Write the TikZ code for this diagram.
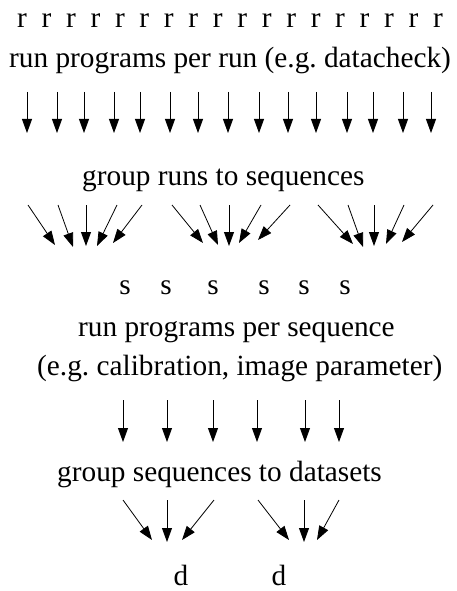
\documentclass[tikz,border=0pt]{standalone}
\usepackage{fontspec}
\setmainfont{Liberation Serif}
\usetikzlibrary{arrows.meta}
\frenchspacing
\begin{document}
\begin{tikzpicture}[x=1pt,y=-1pt,
  lbl/.style={inner sep=0pt,anchor=base west,font=\fontsize{29.3}{35}\selectfont\frenchspacing},
  letter/.style={inner sep=0pt,anchor=base,font=\fontsize{29.3}{35}\selectfont},
  arr/.style={line width=0.8pt,-{Triangle[length=14pt,width=10pt]}}]
\useasboundingbox (0,0) rectangle (456,591);
% row of r
\foreach \i in {0,...,17}{
  \node[letter] (r\i) at ({22+\i*24.47},28) {r};
}
\node[lbl] (t1) at (9,68) {run programs per run (e.g.\ datacheck)};
% straight arrows row 1
\foreach \x [count=\k] in {27,57,84,114,140,170,198,228,259,288,316,347,373,403,431}{
  \coordinate (a\k) at (\x,92);
  \coordinate (b\k) at (\x,133);
  \draw[arr] (a\k) -- (b\k);
}
\node[lbl] (t2) at (82,185) {group runs to sequences};
% converging groups
\foreach \sx/\ex/\ey [count=\k] in {28/55/245,58/73/247,86/86/246,117/97/246,142/113/243,
  172/203/243,200/218/245,229/229/246,261/239/243,290/258/240,
  318/353/244,348/363/247,374/374/246,404/386/244,433/402/242}{
  \coordinate (g\k) at (\sx,205);
  \coordinate (h\k) at (\ex,\ey);
  \draw[arr] (g\k) -- (h\k);
}
% s row
\foreach \x [count=\k] in {125,166,213,264,304,345}{
  \node[letter] (s\k) at (\x,294) {s};
}
\node[lbl] (t3) at (78,336) {run programs per sequence};
\node[lbl] (t4) at (37,375) {(e.g.\ calibration, image parameter)};
% straight arrows row 3
\foreach \x [count=\k] in {123,167,213,257,305,339}{
  \coordinate (c\k) at (\x,400);
  \coordinate (e\k) at (\x,442);
  \draw[arr] (c\k) -- (e\k);
}
\node[lbl] (t5) at (57,481) {group sequences to datasets};
% converging groups to datasets
\foreach \sx/\ex/\ey [count=\k] in {123/152/540,167/167/542,214/182/540,
  258/289/540,304/304/542,339/317/540}{
  \coordinate (p\k) at (\sx,500);
  \coordinate (q\k) at (\ex,\ey);
  \draw[arr] (p\k) -- (q\k);
}
\node[letter] (d1) at (181,585) {d};
\node[letter] (d2) at (279,585) {d};
\end{tikzpicture}
\end{document}
